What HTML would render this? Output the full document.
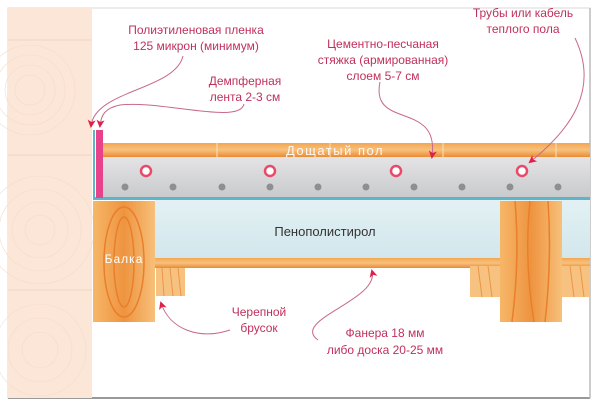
<!DOCTYPE html>
<html><head><meta charset="utf-8"><style>
body{margin:0;width:600px;height:409px;background:#fff;overflow:hidden;font-family:"Liberation Sans",sans-serif}
</style></head><body>
<svg width="600" height="409" viewBox="0 0 600 409" xmlns="http://www.w3.org/2000/svg">
<defs>
<linearGradient id="wood" x1="0" y1="0" x2="0" y2="1"><stop offset="0" stop-color="#f3a651"/><stop offset="0.5" stop-color="#f7c17e"/><stop offset="1" stop-color="#e98b32"/></linearGradient>
<linearGradient id="beam" x1="0" y1="0" x2="1" y2="0"><stop offset="0" stop-color="#f6b768"/><stop offset="0.5" stop-color="#ee9440"/><stop offset="1" stop-color="#f7c07a"/></linearGradient>
<linearGradient id="scr" x1="0" y1="0" x2="0" y2="1"><stop offset="0" stop-color="#e4e4e6"/><stop offset="1" stop-color="#c9cacc"/></linearGradient>
<linearGradient id="ins" x1="0" y1="0" x2="0" y2="1"><stop offset="0" stop-color="#e3f1f4"/><stop offset="1" stop-color="#d2e7ec"/></linearGradient>
<marker id="ar" markerWidth="8" markerHeight="8" refX="6" refY="4" orient="auto"><path d="M0,0 L8,4 L0,8 L2,4z" fill="#e0204a"/></marker>
</defs>
<rect x="8" y="8" width="582" height="390" fill="#fff" stroke="#d8d8d8"/>
<line x1="8" y1="398" x2="590" y2="398" stroke="#999" stroke-width="2"/>
<line x1="590" y1="8" x2="590" y2="398" stroke="#bbb" stroke-width="1.5"/>
<rect x="8" y="8" width="84" height="390" fill="#fbe6d7"/>
<g fill="none" stroke="#f6dccb" stroke-width="0.6">
<circle cx="30" cy="90" r="15"/><circle cx="30" cy="90" r="25"/><circle cx="30" cy="90" r="35"/><circle cx="30" cy="90" r="45"/>
<circle cx="40" cy="230" r="15"/><circle cx="40" cy="230" r="28"/><circle cx="40" cy="230" r="41"/><circle cx="40" cy="230" r="54"/>
<circle cx="40" cy="350" r="18"/><circle cx="40" cy="350" r="32"/><circle cx="40" cy="350" r="46"/>
</g>
<line x1="8" y1="40" x2="92" y2="40" stroke="#f2d6c2"/><line x1="8" y1="155" x2="92" y2="155" stroke="#f2d6c2"/><line x1="8" y1="290" x2="92" y2="290" stroke="#f2d6c2"/>
<rect x="103" y="143" width="487" height="14" fill="url(#wood)"/>
<g stroke="#fbe0bd" stroke-width="1"><line x1="217" y1="143" x2="217" y2="157"/><line x1="330" y1="143" x2="330" y2="157"/><line x1="443" y1="143" x2="443" y2="157"/><line x1="556" y1="143" x2="556" y2="157"/></g>
<text x="335" y="155" font-size="13" fill="#fff" text-anchor="middle" letter-spacing="1.5" opacity="0.9">Дощатый пол</text>
<rect x="103" y="157" width="487" height="40" fill="url(#scr)"/>
<rect x="93" y="197" width="497" height="3" fill="#5fb5c8"/>
<rect x="93" y="130" width="2" height="70" fill="#5fb5c8"/>
<rect x="96" y="130" width="7" height="68" fill="#e8428a"/>
<g fill="#fff" stroke="#ea4a6a" stroke-width="2.5"><circle cx="146" cy="171" r="5"/><circle cx="270" cy="171" r="5"/><circle cx="396" cy="171" r="5"/><circle cx="522" cy="171" r="5"/></g>
<g fill="#8d8f92"><circle cx="125" cy="187" r="3.5"/><circle cx="173" cy="187" r="3.5"/><circle cx="222" cy="187" r="3.5"/><circle cx="270" cy="187" r="3.5"/><circle cx="318" cy="187" r="3.5"/><circle cx="366" cy="187" r="3.5"/><circle cx="414" cy="187" r="3.5"/><circle cx="462" cy="187" r="3.5"/><circle cx="510" cy="187" r="3.5"/><circle cx="558" cy="187" r="3.5"/></g>
<rect x="155" y="200" width="435" height="58" fill="url(#ins)"/>
<text x="325" y="236" font-size="13" fill="#333" text-anchor="middle">Пенополистирол</text>
<rect x="155" y="258" width="435" height="10" fill="url(#wood)"/>
<rect x="156" y="268" width="29" height="28" fill="#f7c27f"/>
<rect x="470" y="266" width="30" height="31" fill="#f7c27f"/>
<rect x="562" y="266" width="28" height="31" fill="#f7c27f"/>
<g stroke="#ec9548" stroke-width="1"><line x1="162" y1="268" x2="164" y2="296"/><line x1="170" y1="268" x2="173" y2="296"/><line x1="178" y1="268" x2="181" y2="296"/><line x1="478" y1="266" x2="482" y2="297"/><line x1="488" y1="266" x2="492" y2="297"/><line x1="570" y1="266" x2="574" y2="297"/><line x1="580" y1="266" x2="584" y2="297"/></g>
<rect x="93" y="201" width="62" height="121" fill="url(#beam)"/>
<rect x="500" y="201" width="62" height="121" fill="url(#beam)"/>
<g fill="none" stroke="#e97f2a" stroke-width="1.5"><ellipse cx="124" cy="262" rx="10" ry="45"/><ellipse cx="124" cy="262" rx="20" ry="55"/><path d="M515 201 Q520 260 512 322"/><path d="M530 201 Q524 260 534 322"/><path d="M548 201 Q552 260 545 322"/></g>
<text x="124" y="263" font-size="12" fill="#fff" text-anchor="middle" letter-spacing="1">Балка</text>
<g font-size="12" fill="#c0305c" text-anchor="middle">
<text x="196" y="34">Полиэтиленовая пленка</text><text x="196" y="50">125 микрон (минимум)</text>
<text x="245" y="85">Демпферная</text><text x="245" y="101">лента 2-3 см</text>
<text x="383" y="48">Цементно-песчаная</text><text x="383" y="64">стяжка (армированная)</text><text x="383" y="80">слоем 5-7 см</text>
<text x="523" y="17">Трубы или кабель</text><text x="523" y="33">теплого пола</text>
<text x="259" y="316">Черепной</text><text x="259" y="332">брусок</text>
<text x="385" y="337">Фанера 18 мм</text><text x="385" y="354">либо доска 20-25 мм</text>
</g>
<g fill="none" stroke="#c86a88" stroke-width="1" marker-end="url(#ar)">
<path d="M183 56 C175 90 95 90 91 126"/>
<path d="M244 104 C240 125 160 100 120 105 C105 108 101 115 100 126"/>
<path d="M380 82 C370 130 440 100 432 157"/>
<path d="M575 38 C600 90 570 130 530 162"/>
<path d="M230 330 C200 340 170 330 161 303"/>
<path d="M318 340 C290 320 380 300 372 271"/>
</g>
</svg>
</body></html>
